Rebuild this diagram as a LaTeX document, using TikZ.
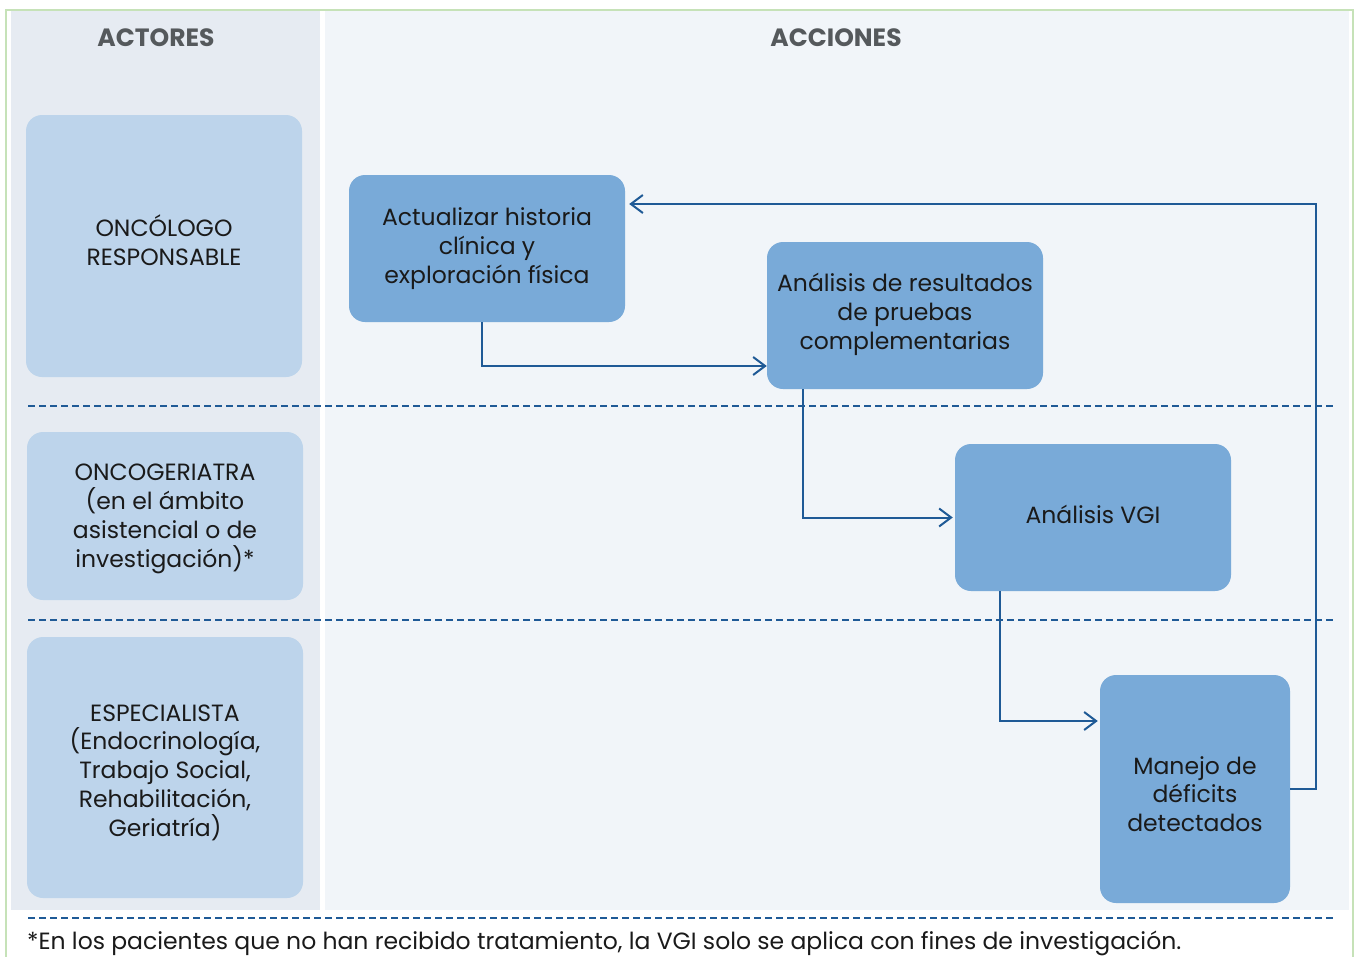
\documentclass[tikz,border=0pt]{standalone}
\usepackage{fontspec}
\setmainfont{Poppins}
\usetikzlibrary{arrows.meta}
\definecolor{frameg}{HTML}{C6E2B8}
\definecolor{leftbg}{HTML}{E6EBF2}
\definecolor{rightbg}{HTML}{F1F5F9}
\definecolor{actorc}{HTML}{BDD4EB}
\definecolor{actc}{HTML}{79AAD8}
\definecolor{linec}{HTML}{1F5A96}
\definecolor{headc}{HTML}{55595C}
\definecolor{txtc}{HTML}{1A1A1A}
\begin{document}
\begin{tikzpicture}[x=1pt,y=-1pt,
  boxtext/.style={align=center,text=txtc,font=\fontsize{23.5}{28.8}\selectfont,inner sep=0pt},
  actorbox/.style={draw=none,fill=actorc,rounded corners=16pt,minimum width=276pt,inner sep=0pt},
  actbox/.style={draw=none,fill=actc,rounded corners=16pt,minimum width=276pt,minimum height=147pt,inner sep=0pt},
  header/.style={text=headc,font=\fontsize{25}{28}\selectfont\bfseries},
  sep/.style={draw=linec,line width=1.3pt,dash pattern=on 7pt off 4pt},
  arr/.style={draw=linec,line width=2pt,-{Straight Barb[length=12pt,width=18pt,line width=2pt]}}]
\useasboundingbox (0,0) rectangle (1357,956);
\fill[white] (0,0) rectangle (1357,956);
\fill[leftbg] (11,11) rectangle (320,910);
\fill[rightbg] (325,11) rectangle (1349,910);
\draw[frameg,line width=2pt] (6,960) -- (6,10) -- (1353,10) -- (1353,960);
\draw[sep] (28,406) -- (1336,406);
\draw[sep] (28,620) -- (1336,620);
\draw[sep] (28,918) -- (1336,918);
\node[header] (h1) at (156,38) {ACTORES};
\node[header] (h2) at (836,38) {ACCIONES};
\node[actorbox,minimum height=262pt,label={[boxtext,yshift=6pt]center:{ONCÓLOGO\\RESPONSABLE}}] (r1) at (164,246) {};
\node[actorbox,minimum height=168pt,label={[boxtext,yshift=-3pt]center:{ONCOGERIATRA\\(en el ámbito\\asistencial o de\\investigación)*}}] (r2) at (165,516) {};
\node[actorbox,minimum height=261pt,label={[boxtext,yshift=-5pt]center:{ESPECIALISTA\\(Endocrinología,\\Trabajo Social,\\Rehabilitación,\\Geriatría)}}] (r3) at (165,767.5) {};
\node[actbox,label={[boxtext]center:{Actualizar historia\\clínica y\\exploración física}}] (a1) at (487,248.5) {};
\node[actbox,label={[boxtext,yshift=1pt]center:{Análisis de resultados\\de pruebas\\complementarias}}] (a2) at (905,315.5) {};
\node[actbox,label={[boxtext,yshift=3pt]center:{Análisis VGI}}] (a3) at (1093,517.5) {};
\node[actbox,minimum width=190pt,minimum height=228pt,label={[boxtext,yshift=-5pt]center:{Manejo de\\déficits\\detectados}}] (a4) at (1195,789) {};
\draw[arr] ([xshift=-5pt]a1.south) |- ([yshift=-50.5pt]a2.west);
\draw[arr] ([xshift=36pt]a2.south west) |- ([xshift=-2pt]a3.west);
\draw[arr] ([xshift=45pt]a3.south west) |- ([xshift=-2pt,yshift=68pt]a4.west);
\draw[arr,shorten >=4pt] (a4.east) -- ++(26,0) |- ([yshift=44.5pt]a1.east);
\node[anchor=base west,text=txtc,font=\fontsize{23.5}{26}\selectfont,inner sep=0pt] (foot) at (27,949) {*En los pacientes que no han recibido tratamiento, la VGI solo se aplica con fines de investigación.};
\end{tikzpicture}
\end{document}
